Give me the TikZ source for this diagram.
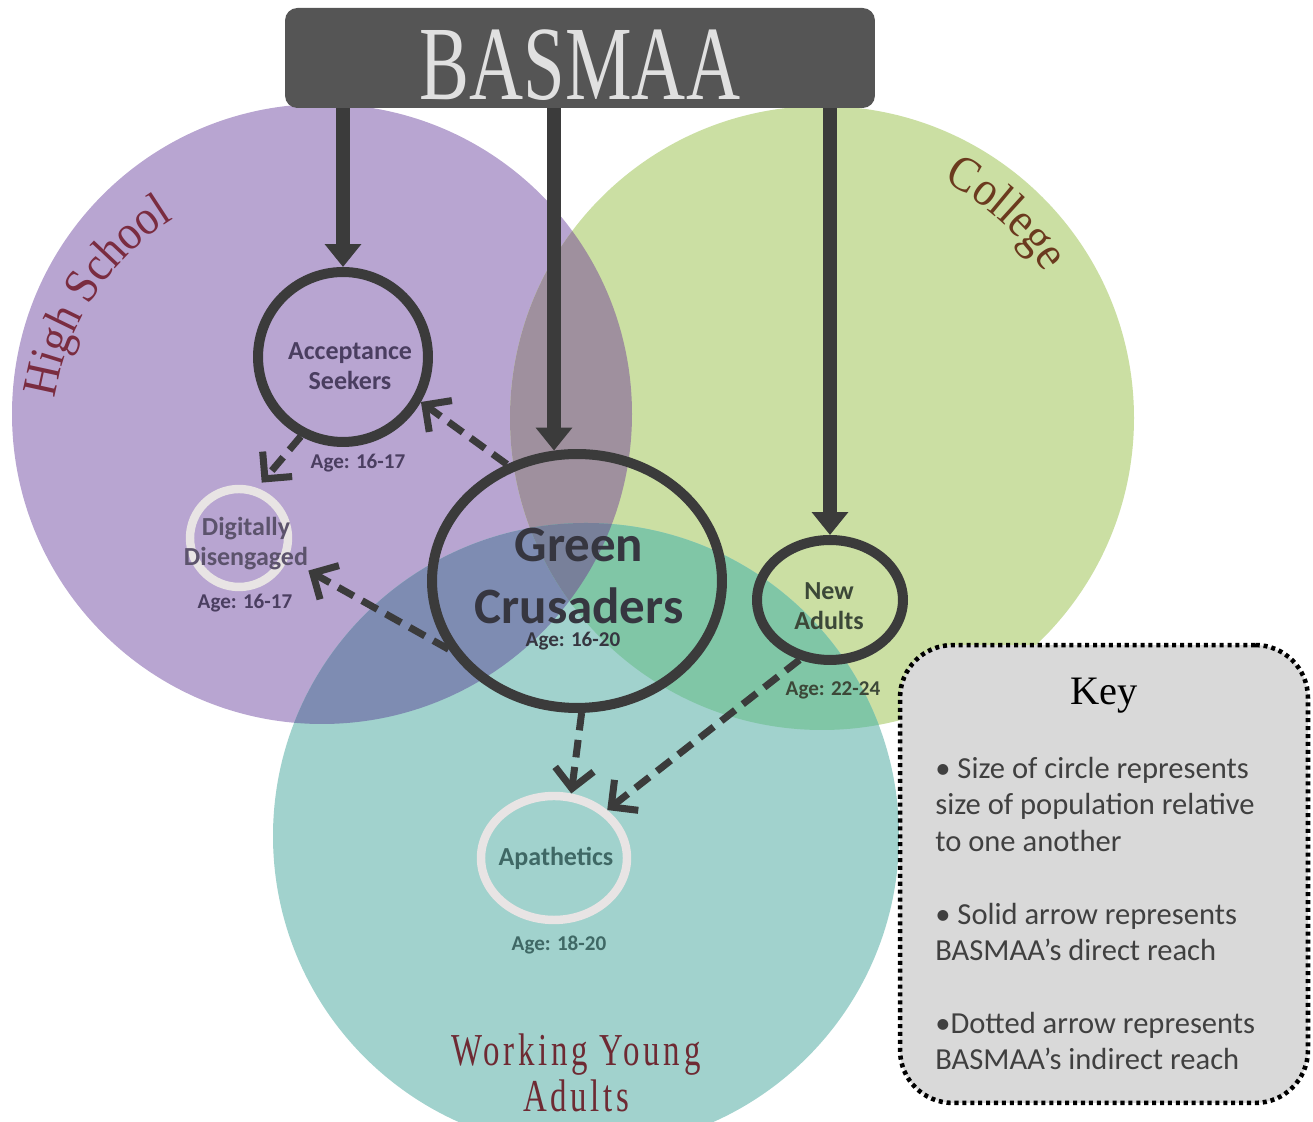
\documentclass[tikz,border=0pt]{standalone}
\usepackage{fontspec}
\usetikzlibrary{arrows.meta,shapes.geometric,decorations.text}
\newfontfamily\titlefont[FakeStretch=0.71]{Liberation Serif}
\newfontfamily\arcfont[FakeStretch=0.9]{Liberation Serif}
\newfontfamily\wyfont[FakeStretch=0.72,LetterSpace=8]{Liberation Serif}
\newfontfamily\calfont{Carlito}
\newfontfamily\keyfont{Liberation Serif}
\definecolor{hsfill}{HTML}{B8A5D1}
\definecolor{cofill}{HTML}{CBDFA3}
\definecolor{wyfill}{HTML}{A1D2CD}
\definecolor{hsco}{HTML}{9F909E}
\definecolor{hswy}{HTML}{7E8CB2}
\definecolor{cowy}{HTML}{80C6A6}
\definecolor{allthree}{HTML}{78809A}
\definecolor{ringdark}{HTML}{3B3B3B}
\definecolor{ringlight}{HTML}{E8E4E4}
\definecolor{boxgrey}{HTML}{555555}
\definecolor{basmaatext}{HTML}{E0E0E0}
\definecolor{hstext}{HTML}{7A2C40}
\definecolor{cotext}{HTML}{6B3A1E}
\definecolor{wytext}{HTML}{6E2A33}
\definecolor{astext}{HTML}{4A3E60}
\definecolor{ddtext}{HTML}{5C536C}
\definecolor{gctext}{HTML}{363640}
\definecolor{natext}{HTML}{3C4838}
\definecolor{aptext}{HTML}{3F6865}
\definecolor{keyfill}{HTML}{D9D9D9}
\definecolor{keytext}{HTML}{404040}
\begin{document}
\begin{tikzpicture}[x=0.02cm,y=0.02cm,
    ring/.style={draw=ringdark,line width=5.7pt,inner sep=0pt},
    faint/.style={draw=ringlight,line width=4.8pt,inner sep=0pt},
    lbl/.style={font=\calfont\bfseries\fontsize{14.8}{17}\selectfont,align=center,inner sep=0pt},
    age/.style={font=\calfont\bfseries\fontsize{12}{14}\selectfont,inner sep=0pt},
    reach/.style={line width=8.5pt,draw=ringdark,-{Triangle[length=13pt,width=20pt]}},
    spread/.style={line width=4pt,draw=ringdark,dash pattern=on 10pt off 5.5pt,
      -{Straight Barb[length=11pt,width=22pt]}}]
  \useasboundingbox (0,0) rectangle (1313,1122);
  \coordinate (hs) at (322,708);
  \coordinate (co) at (822,704);
  \coordinate (wy) at (586,286);
  % the three groups
  \fill[hsfill] (hs) circle (310);
  \fill[cofill] (co) circle (312);
  \fill[wyfill] (wy) circle (313);
  \begin{scope}
    \clip (hs) circle (310);
    \fill[hsco] (co) circle (312);
    \fill[hswy] (wy) circle (313);
  \end{scope}
  \begin{scope}
    \clip (co) circle (312);
    \fill[cowy] (wy) circle (313);
  \end{scope}
  \begin{scope}
    \clip (hs) circle (310);
    \clip (co) circle (312);
    \fill[allthree] (wy) circle (313);
  \end{scope}
  \path[decorate,decoration={text along path,text align=center,
      text={|\arcfont\fontsize{28}{30}\selectfont\color{hstext}|High School}}]
    (310,684) ++(193:258) arc[start angle=193,end angle=100,radius=258];
  \path[decorate,decoration={text along path,text align=center,
      text={|\arcfont\fontsize{28}{30}\selectfont\color{cotext}|College}}]
    (co) ++(93:266) arc[start angle=93,end angle=3,radius=266];
  \node[font=\wyfont\fontsize{26}{26.6}\selectfont,text=wytext,align=center] (wylabel) at (576,49) {Working Young\\Adults};
  % populations
  \node[ring,circle,minimum size=3.4cm] (as) at (343,765) {};
  \node[faint,circle,minimum size=1.96cm] (dd) at (239,584) {};
  \node[ring,ellipse,minimum width=5.8cm,minimum height=5.08cm] (gc) at (577,541) {};
  \node[ring,ellipse,minimum width=2.92cm,minimum height=2.4cm] (na) at (830,522) {};
  \node[faint,ellipse,minimum width=2.92cm,minimum height=2.48cm] (ap) at (554,264) {};
  \node[lbl,text=astext] (aslabel) at (350,756) {Acceptance\\Seekers};
  \node[age,text=astext] (asage) at (358,659) {Age: 16-17};
  \node[lbl,text=ddtext] (ddlabel) at (246,578) {Digitally\\Disengaged};
  \node[age,text=astext] (ddage) at (245,519) {Age: 16-17};
  \node[lbl,font=\calfont\bfseries\fontsize{29}{35}\selectfont,text=gctext] (gclabel) at (579,546) {Green\\Crusaders};
  \node[age,text=gctext] (gcage) at (573,481) {Age: 16-20};
  \node[lbl,text=natext] (nalabel) at (829,516) {New\\Adults};
  \node[age,text=natext] (naage) at (833,432) {Age: 22-24};
  \node[lbl,text=aptext] (aplabel) at (556,264) {Apathetics};
  \node[age,text=aptext] (apage) at (559,177) {Age: 18-20};
  % BASMAA and its reach
  \node[fill=boxgrey,rounded corners=7pt,minimum width=11.8cm,minimum height=2cm,inner sep=0pt,
    text=basmaatext,text height=48pt,font=\titlefont\fontsize{60}{60}\selectfont] (basmaa) at (580,1064) {BASMAA};
  \draw[reach] (basmaa.south -| as.north) -- (as.north);
  \draw[reach] (basmaa.south -| gc.100) -- (gc.100);
  \draw[reach] (basmaa.south -| na.north) -- (na.north);
  \draw[spread] (gc.121) -- (as.-30);
  \draw[spread,shorten >=4pt] (as.242) -- (dd.70);
  \draw[spread] (gc.208) -- (ddlabel.south east);
  \draw[spread] (gc.272) -- (ap.75);
  \draw[spread] (na.243) -- (ap.42);
  % key
  \node[fill=keyfill,draw=black,line width=2.6pt,dash pattern=on 2.3pt off 2.2pt,rounded corners=30pt,
    minimum width=8.16cm,minimum height=9.16cm] (key) at (1104,248) {};
  \node[font=\keyfont\fontsize{23}{26}\selectfont] (keyhead) at (1104,426) {Key};
  \node[anchor=north west,inner sep=0pt,align=left,text=keytext,font=\calfont\fontsize{17.4}{20.7}\selectfont] (keybody) at (935,365)
    {• Size of circle represents\\size of population relative\\to one another\\[20.7pt]
     • Solid arrow represents\\BASMAA’s direct reach\\[20.7pt]
     •Dotted arrow represents\\BASMAA’s indirect reach};
\end{tikzpicture}
\end{document}
